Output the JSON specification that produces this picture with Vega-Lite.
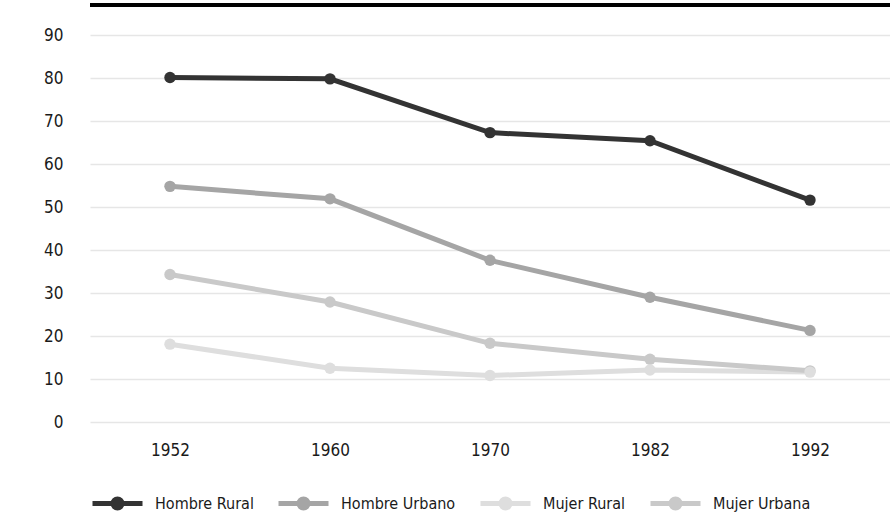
{
  "$schema": "https://vega.github.io/schema/vega-lite/v6.json",
  "width": 800,
  "height": 387,
  "autosize": {"type": "none"},
  "padding": {"left": 90, "top": 35, "right": 0, "bottom": 107},
  "config": {
    "font": "DejaVu Sans Condensed, Roboto, sans-serif",
    "view": {"stroke": null},
    "axis": {"labelFont": "DejaVu Sans Condensed, Roboto, sans-serif", "labelFontSize": 17, "labelColor": "#1a1a1a"},
    "legend": {"labelFont": "DejaVu Sans Condensed, Roboto, sans-serif", "labelFontSize": 16, "labelColor": "#1a1a1a"}
  },
  "data": {
    "values": [
      {"year": "1952", "serie": "Hombre Rural", "value": 80.1},
      {"year": "1960", "serie": "Hombre Rural", "value": 79.8},
      {"year": "1970", "serie": "Hombre Rural", "value": 67.3},
      {"year": "1982", "serie": "Hombre Rural", "value": 65.4},
      {"year": "1992", "serie": "Hombre Rural", "value": 51.6},
      {"year": "1952", "serie": "Hombre Urbano", "value": 54.8},
      {"year": "1960", "serie": "Hombre Urbano", "value": 51.9},
      {"year": "1970", "serie": "Hombre Urbano", "value": 37.6},
      {"year": "1982", "serie": "Hombre Urbano", "value": 29.0},
      {"year": "1992", "serie": "Hombre Urbano", "value": 21.3},
      {"year": "1952", "serie": "Mujer Rural", "value": 18.1},
      {"year": "1960", "serie": "Mujer Rural", "value": 12.5},
      {"year": "1970", "serie": "Mujer Rural", "value": 10.8},
      {"year": "1982", "serie": "Mujer Rural", "value": 12.1},
      {"year": "1992", "serie": "Mujer Rural", "value": 11.6},
      {"year": "1952", "serie": "Mujer Urbana", "value": 34.3},
      {"year": "1960", "serie": "Mujer Urbana", "value": 27.9},
      {"year": "1970", "serie": "Mujer Urbana", "value": 18.3},
      {"year": "1982", "serie": "Mujer Urbana", "value": 14.6},
      {"year": "1992", "serie": "Mujer Urbana", "value": 11.9}
    ]
  },
  "layer": [
    {
      "mark": {"type": "line", "strokeWidth": 5, "point": {"size": 130, "filled": true, "opacity": 1}},
      "encoding": {
        "x": {
          "field": "year", "type": "ordinal",
          "scale": {"type": "point", "padding": 0.5},
          "axis": {"title": null, "labelAngle": 0, "domain": false, "ticks": false, "grid": false, "labelPadding": 20}
        },
        "y": {
          "field": "value", "type": "quantitative",
          "scale": {"domain": [0, 90], "nice": false},
          "axis": {"title": null, "grid": true, "values": [0,10,20,30,40,50,60,70,80,90], "domain": false, "ticks": false, "labelPadding": 27, "gridColor": "#e6e6e6", "gridWidth": 1.5}
        },
        "color": {
          "field": "serie", "type": "nominal",
          "scale": {
            "domain": ["Hombre Rural", "Hombre Urbano", "Mujer Rural", "Mujer Urbana"],
            "range": ["#333333", "#a5a5a5", "#dedede", "#c9c9c9"]
          },
          "legend": {
            "title": null, "orient": "bottom", "direction": "horizontal",
            "symbolType": "M-1,0H1M0.18,0A0.18,0.18,0,1,1,-0.18,0A0.18,0.18,0,1,1,0.18,0",
            "symbolSize": 2500, "symbolStrokeWidth": 5,
            "columnPadding": 14, "labelOffset": 10, "offset": 18,
            "encode": {"symbols": {"update": {"stroke": {"scale": "color", "field": "value"}, "fill": {"scale": "color", "field": "value"}}}}
          }
        },
        "order": {"field": "serie", "sort": "descending"}
      }
    },
    {
      "mark": {"type": "rule", "color": "#000000", "strokeWidth": 3, "clip": false},
      "encoding": {"y": {"datum": 97, "type": "quantitative"}}
    }
  ]
}
